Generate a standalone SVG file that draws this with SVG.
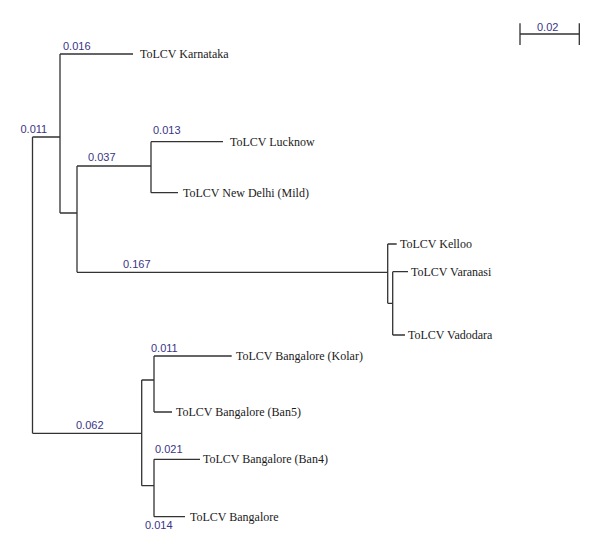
<svg xmlns="http://www.w3.org/2000/svg" width="600" height="553" viewBox="0 0 600 553">
<style>
.br{fill:none;stroke:#333;stroke-width:1.3}
.tx{font-family:"Liberation Serif",serif;font-size:12px;fill:#1a1a1a}
.bl{font-family:"Liberation Sans",sans-serif;font-size:11px;fill:#3a3486}
</style>
<rect width="600" height="553" fill="#fff"/>
<g id="connectors">
<path class="br" d="M32.5,137 V433.3 M32.5,137 H60 M32.5,433.3 H141.7"/>
<path class="br" d="M60,54 V213 M60,54 H133 M60,213 H77"/>
<path class="br" d="M77,166 V272.3 M77,166 H151 M77,272.3 H387.7"/>
<path class="br" d="M151,141.7 V192.7 M151,141.7 H223 M151,192.7 H178"/>
<path class="br" d="M387.7,244 V303.3 M387.7,244 H396.7 M387.7,303.3 H392.7"/>
<path class="br" d="M392.7,271.7 V335 M392.7,271.7 H408 M392.7,335 H405"/>
<path class="br" d="M141.7,380 V485.7 M141.7,380 H154 M141.7,485.7 H154"/>
<path class="br" d="M154,356 V412 M154,356 H231.7 M154,412 H172"/>
<path class="br" d="M154,459.3 V516.7 M154,459.3 H200 M154,516.7 H185"/>
</g>
<g id="branch-labels">
<text class="bl" x="63" y="50">0.016</text>
<text class="bl" x="20.5" y="133">0.011</text>
<text class="bl" x="88" y="161">0.037</text>
<text class="bl" x="153" y="134">0.013</text>
<text class="bl" x="123" y="268">0.167</text>
<text class="bl" x="76" y="429">0.062</text>
<text class="bl" x="151" y="352">0.011</text>
<text class="bl" x="155" y="453">0.021</text>
<text class="bl" x="145" y="529">0.014</text>
</g>
<g id="n-karnataka"><text class="tx" x="140" y="58">ToLCV Karnataka</text></g>
<g id="n-lucknow"><text class="tx" x="230" y="146">ToLCV Lucknow</text></g>
<g id="n-newdelhi"><text class="tx" x="183" y="197">ToLCV New Delhi (Mild)</text></g>
<g id="n-kelloo"><text class="tx" x="400" y="248">ToLCV Kelloo</text></g>
<g id="n-varanasi"><text class="tx" x="411" y="276">ToLCV Varanasi</text></g>
<g id="n-vadodara"><text class="tx" x="408" y="339">ToLCV Vadodara</text></g>
<g id="n-kolar"><text class="tx" x="236" y="360">ToLCV Bangalore (Kolar)</text></g>
<g id="n-ban5"><text class="tx" x="176" y="416">ToLCV Bangalore (Ban5)</text></g>
<g id="n-ban4"><text class="tx" x="203" y="463">ToLCV Bangalore (Ban4)</text></g>
<g id="n-bangalore"><text class="tx" x="190" y="521">ToLCV Bangalore</text></g>
<g id="scale-bar">
<path class="br" d="M520,34 H579.3 M520,23.3 V45 M579.3,23.3 V45"/>
<text class="bl" x="537" y="31">0.02</text>
</g>
</svg>
